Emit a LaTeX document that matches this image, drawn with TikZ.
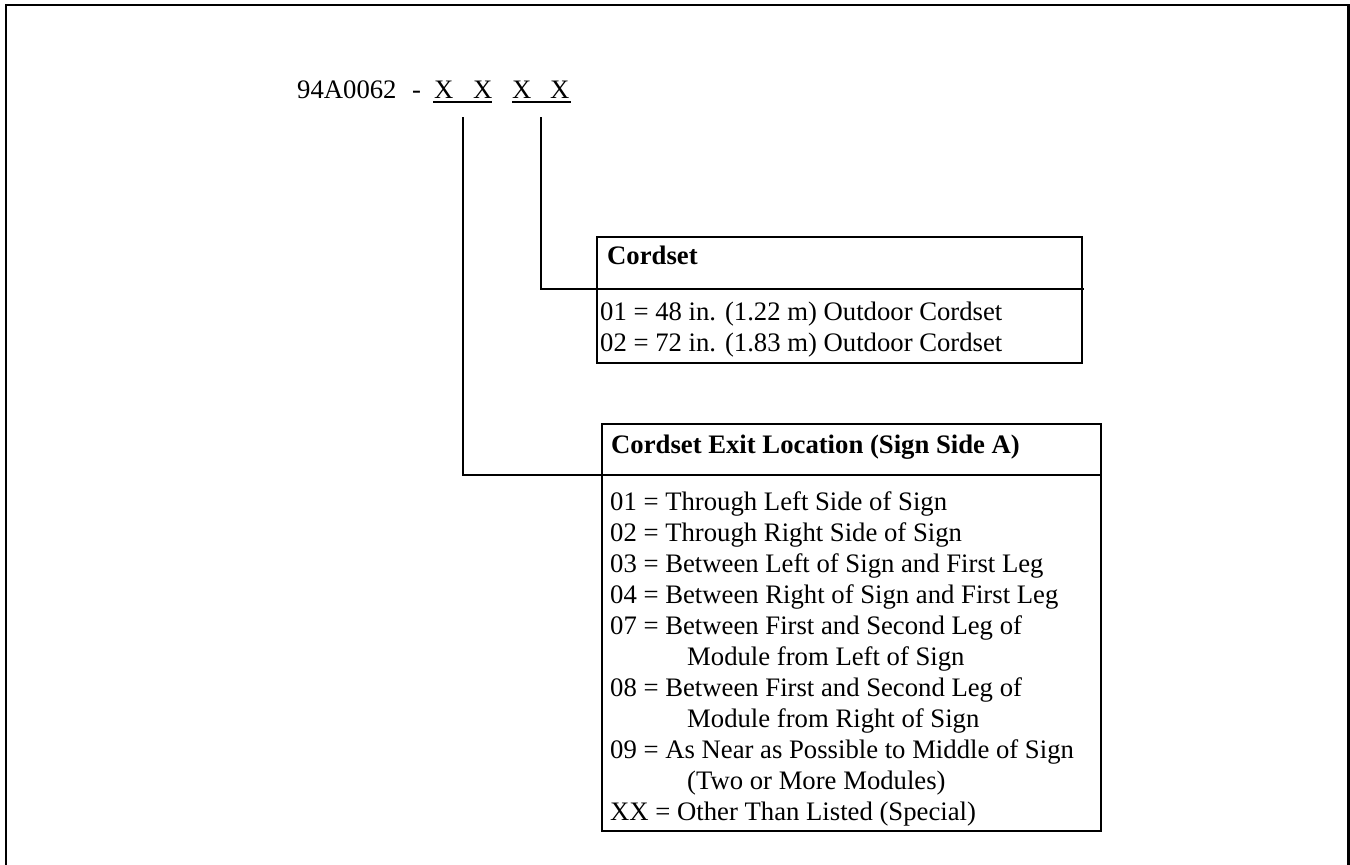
\documentclass[tikz,border=0pt]{standalone}
\usepackage{fontspec}
\setmainfont{Liberation Serif}
\begin{document}
\begin{tikzpicture}[x=1pt,y=1pt,
  txt/.style={anchor=base west, inner sep=0pt, font=\fontsize{26.7}{31}\selectfont},
  hdr/.style={anchor=base west, inner sep=0pt, font=\fontsize{26.7}{31}\selectfont\bfseries},
  boxpart/.style={draw, line width=2.6pt, anchor=north west, inner sep=0pt, outer sep=0pt},
  conn/.style={line width=2.2pt},
  uline/.style={line width=2pt},
]
\useasboundingbox (0,0) rectangle (1350,-865);
% outer frame (open at bottom)
\draw[line width=2.6pt] (6,-865) -- (6,-5) -- (1348.5,-5) -- (1348.5,-865);

% title
\node[txt] (code) at (297,-98) {94A0062};
\node[txt] (dash) at (412,-98) {-};
\node[txt] (x1) at (434,-98) {X};
\node[txt] (x2) at (473,-98) {X};
\node[txt] (x3) at (512,-98) {X};
\node[txt] (x4) at (550,-98) {X};
\draw[uline] (433,-102) -- (492,-102);
\draw[uline] (512,-102) -- (571,-102);
\coordinate (c1) at (463,-117);
\coordinate (c2) at (541,-117);

% box 1: Cordset
\node[boxpart, minimum width=485pt, minimum height=52pt] (h1) at (597,-237) {};
\node[boxpart, minimum width=485pt, minimum height=74pt] (b1) at (597,-289) {};
\node[hdr] (h1t) at (607,-264) {Cordset};
\node[txt] (r11) at (600,-320) {01 = 48 in. (1.22 m) Outdoor Cordset};
\node[txt] (r12) at (600,-351) {02 = 72 in. (1.83 m) Outdoor Cordset};

% box 2: Cordset Exit Location
\node[boxpart, minimum width=499pt, minimum height=51pt] (h2) at (602,-424) {};
\node[boxpart, minimum width=499pt, minimum height=356pt] (b2) at (602,-475) {};
\node[hdr] (h2t) at (611,-453) {Cordset Exit Location (Sign Side A)};
\node[txt] (r21) at (610,-510) {01 = Through Left Side of Sign};
\node[txt] (r22) at (610,-541) {02 = Through Right Side of Sign};
\node[txt] (r23) at (610,-572) {03 = Between Left of Sign and First Leg};
\node[txt] (r24) at (610,-603) {04 = Between Right of Sign and First Leg};
\node[txt] (r25) at (610,-634) {07 = Between First and Second Leg of};
\node[txt] (r26) at (687,-665) {Module from Left of Sign};
\node[txt] (r27) at (610,-696) {08 = Between First and Second Leg of};
\node[txt] (r28) at (687,-727) {Module from Right of Sign};
\node[txt] (r29) at (610,-758) {09 = As Near as Possible to Middle of Sign};
\node[txt] (r2a) at (687,-789) {(Two or More Modules)};
\node[txt] (r2b) at (610,-820) {XX = Other Than Listed (Special)};

% connectors
\draw[conn] (c2) |- (h1.south west) -- ++(487,0);
\draw[conn] (c1) |- (h2.south west);
\end{tikzpicture}
\end{document}
